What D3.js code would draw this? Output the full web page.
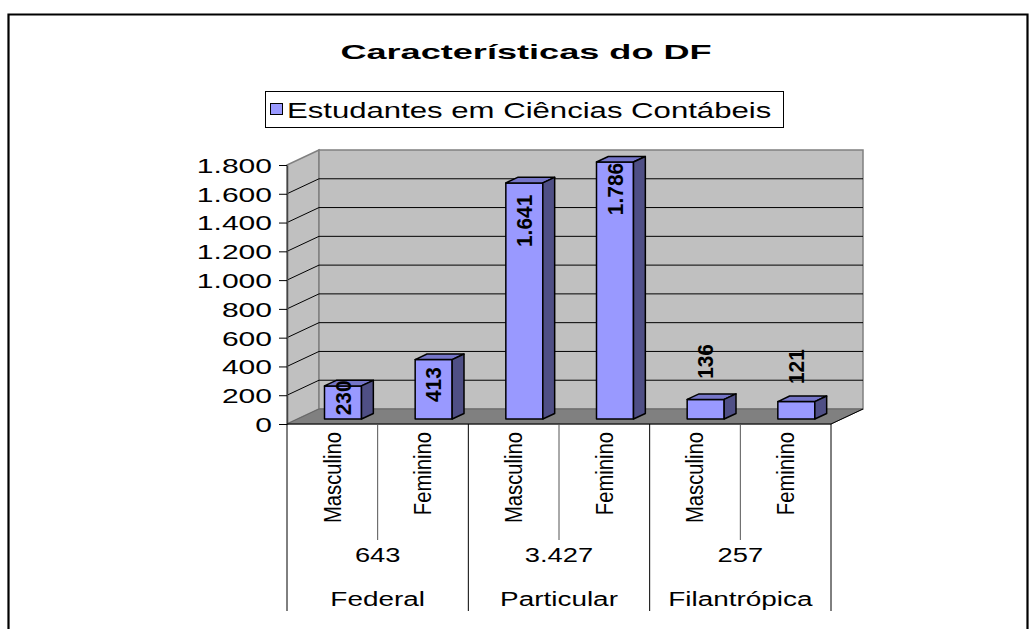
<!DOCTYPE html>
<html>
<head>
<meta charset="utf-8">
<script src="https://cdn.jsdelivr.net/npm/d3@7"></script>
<style>
  html, body { margin: 0; padding: 0; background: #fff; }
  svg { display: block; font-family: "Liberation Sans", Arial, sans-serif; }
</style>
</head>
<body>
<svg id="chart" width="1029" height="629"></svg>
<script>
// ---------------- DATA ----------------
const title = "Características do DF";
const seriesName = "Estudantes em Ciências Contábeis";
const groups = ["Federal", "Particular", "Filantrópica"];
const subCategories = ["Masculino", "Feminino"];
const values = [230, 413, 1641, 1786, 136, 121];   // Masculino/Feminino per group
const yTicks = [0, 200, 400, 600, 800, 1000, 1200, 1400, 1600, 1800];

// ---------------- LAYOUT / STYLE ----------------
const W = 1029, H = 629;
const plot = { left: 287, right: 831, bottom: 424, top: 165 };
const depth = { dx: 32, dy: -15 };          // back wall offset
const barFront = 1 / 3, barDepth = 0.37;    // fractions of depth
const barWidth = 37;
const labelShift = [12, 25, 38, 27, -38, -35]; // label centre relative to bar top (px)
const colors = { front: "#9999ff", top: "#7575c8", side: "#4f4f85", wall: "#c0c0c0", floor: "#808080", wallEdge: "#808080" };

const ru = d3.formatLocale({ decimal: ",", thousands: ".", grouping: [3], currency: ["R$", ""] });
const fmt = ru.format(",d");

const svg = d3.select("#chart");

// helper for stretched text (horizontal stretch as in reference)
function stext(parent, str, x, y, o) {
  let tr = `translate(${x},${y}) scale(${o.sx || 1},1)`;
  if (o.rot) tr += ` rotate(${o.rot})`;
  if (o.lsx) tr += ` scale(${o.lsx},1)`;
  const t = parent.append("text")
    .attr("transform", tr)
    .attr("font-size", o.size)
    .attr("font-weight", o.weight || "normal")
    .attr("text-anchor", o.anchor || "middle")
    .attr("dy", o.dy != null ? o.dy : "0.35em")
    .attr("fill", "#000")
    .text(str);
  return t;
}

// outer border
svg.append("path")
  .attr("d", `M8.5,${H + 5} V14.5 H1027.5 V${H + 5}`)
  .attr("fill", "none").attr("stroke", "#000").attr("stroke-width", 2.2);

// title
stext(svg, title, 526, 52, { size: 21, weight: "bold", sx: 1.72 });

// legend
const lg = svg.append("g");
lg.append("rect").attr("x", 265.5).attr("y", 91.5).attr("width", 518).attr("height", 36)
  .attr("fill", "#fff").attr("stroke", "#000").attr("stroke-width", 1);
lg.append("rect").attr("x", 270.5).attr("y", 103.5).attr("width", 12).attr("height", 11)
  .attr("fill", colors.front).attr("stroke", "#000").attr("stroke-width", 1);
stext(lg, seriesName, 287, 110, { size: 22, sx: 1.415, anchor: "start" });

// scales
const y = d3.scaleLinear().domain([0, 1800]).range([plot.bottom, plot.top]);
const slots = d3.range(values.length);
const x = d3.scaleBand().domain(slots).range([plot.left, plot.right]).paddingInner(0).paddingOuter(0);

// walls
const g3 = svg.append("g");
const bx0 = plot.left + depth.dx, bx1 = plot.right + depth.dx;
const yb0 = y(0) + depth.dy, yb1 = y(1800) + depth.dy;
// side wall
g3.append("path")
  .attr("d", `M${plot.left},${y(0)} L${plot.left},${y(1800)} L${bx0},${yb1} L${bx0},${yb0} Z`)
  .attr("fill", colors.wall).attr("stroke", colors.wallEdge).attr("stroke-width", 1.5);
// back wall
g3.append("rect").attr("x", bx0).attr("y", yb1).attr("width", bx1 - bx0).attr("height", yb0 - yb1)
  .attr("fill", colors.wall).attr("stroke", colors.wallEdge).attr("stroke-width", 1.5);
// grid lines
const gridVals = yTicks.filter(v => v > 0 && v < 1800);
g3.selectAll("line.hg").data(gridVals).join("line")
  .attr("x1", bx0).attr("x2", bx1)
  .attr("y1", d => y(d) + depth.dy).attr("y2", d => y(d) + depth.dy)
  .attr("stroke", "#000").attr("stroke-width", 1);
g3.selectAll("line.dg").data(gridVals).join("line")
  .attr("x1", plot.left).attr("x2", bx0)
  .attr("y1", d => y(d)).attr("y2", d => y(d) + depth.dy)
  .attr("stroke", "#000").attr("stroke-width", 1);
// floor
g3.append("path")
  .attr("d", `M${plot.left},${y(0)} L${bx0},${yb0} L${bx1},${yb0} L${plot.right},${y(0)} Z`)
  .attr("fill", colors.floor).attr("stroke", "#666").attr("stroke-width", 1);

// y axis
const yAxis = d3.axisLeft(y).tickValues(yTicks).tickSize(8).tickSizeOuter(0).tickPadding(0).tickFormat(fmt);
const ya = svg.append("g").attr("transform", `translate(${plot.left},0)`).call(yAxis);
ya.select(".domain").attr("stroke", "#444").attr("stroke-width", 1.5);
ya.selectAll(".tick line").attr("stroke", "#000");
const ySx = 1.43;
ya.selectAll(".tick text")
  .attr("font-size", 21).attr("font-family", "Liberation Sans, Arial, sans-serif").attr("fill", "#000")
  .attr("x", null).attr("dy", "0.35em")
  .attr("transform", `translate(-15,0) scale(${ySx},1)`);

// category axis
const cat = svg.append("g");
cat.append("line").attr("x1", plot.left).attr("x2", plot.right).attr("y1", y(0)).attr("y2", y(0))
  .attr("stroke", "#000").attr("stroke-width", 1);
cat.append("line").attr("x1", plot.right).attr("x2", bx1).attr("y1", y(0)).attr("y2", yb0)
  .attr("stroke", "#000").attr("stroke-width", 1);
// sub dividers
cat.selectAll("line.sd").data(groups.map((g, i) => i)).join("line")
  .attr("x1", i => x(i * 2 + 1)).attr("x2", i => x(i * 2 + 1))
  .attr("y1", y(0)).attr("y2", 540).attr("stroke", "#555").attr("stroke-width", 1);
// group dividers
cat.selectAll("line.gd").data(d3.range(groups.length + 1)).join("line")
  .attr("x1", i => (i < groups.length ? x(i * 2) : plot.right)).attr("x2", i => (i < groups.length ? x(i * 2) : plot.right))
  .attr("y1", y(0)).attr("y2", 611).attr("stroke", "#000").attr("stroke-width", 1);
// sub labels
slots.forEach(i => {
  stext(cat, subCategories[i % 2], x(i) + x.bandwidth() / 2, 432, { size: 23, sx: 1.05, rot: -90, lsx: 0.88, anchor: "end" });
});
// group totals and names
groups.forEach((gname, gi) => {
  const cx = x(gi * 2) + x.bandwidth();
  const total = d3.sum(values.slice(gi * 2, gi * 2 + 2));
  stext(cat, fmt(total), cx, 555, { size: 21, sx: 1.3 });
  stext(cat, gname, cx, 599, { size: 21, sx: 1.33 });
});

// bars
const fdx = depth.dx * barFront, fdy = depth.dy * barFront;
const ddx = depth.dx * barDepth, ddy = depth.dy * barDepth;
const bars = svg.append("g");
slots.forEach(i => {
  const v = values[i];
  const x0 = x(i) + fdx + (x.bandwidth() - barWidth) / 2, x1 = x0 + barWidth;
  const yt = y(v) + fdy, yb = y(0) + fdy;
  const g = bars.append("g").attr("stroke", "#000").attr("stroke-width", 1.5).attr("stroke-linejoin", "round");
  g.append("rect").attr("x", x0).attr("y", yt).attr("width", barWidth).attr("height", yb - yt).attr("fill", colors.front);
  g.append("path").attr("d", `M${x0},${yt} L${x0 + ddx},${yt + ddy} L${x1 + ddx},${yt + ddy} L${x1},${yt} Z`).attr("fill", colors.top);
  g.append("path").attr("d", `M${x1},${yt} L${x1 + ddx},${yt + ddy} L${x1 + ddx},${yb + ddy} L${x1},${yb} Z`).attr("fill", colors.side);
});
// value labels
slots.forEach(i => {
  const v = values[i];
  const cx = x(i) + fdx + x.bandwidth() / 2;
  const cy = y(v) + fdy + labelShift[i];
  stext(bars, fmt(v), cx, cy, { size: 22, weight: "bold", rot: -90, lsx: 0.95, anchor: "middle" });
});
</script>
</body>
</html>
